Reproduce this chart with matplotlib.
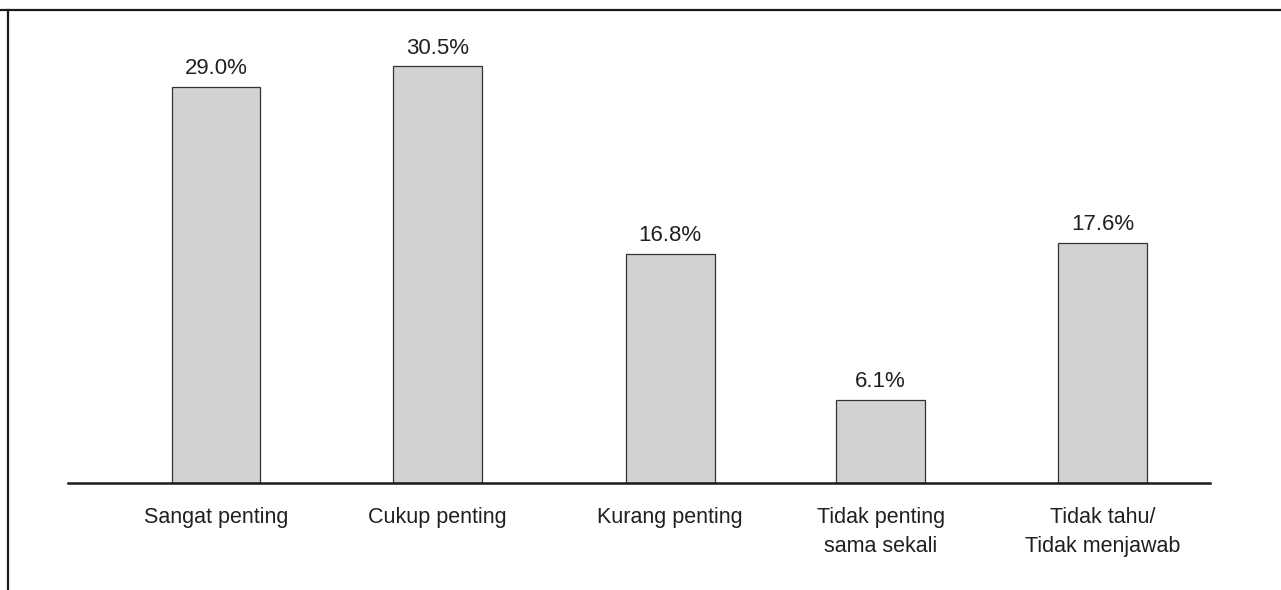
import matplotlib.pyplot as plt
from matplotlib.lines import Line2D

# survey answers, share of respondents in percent
categories = ["Sangat penting", "Cukup penting", "Kurang penting",
              "Tidak penting\nsama sekali", "Tidak tahu/\nTidak menjawab"]
values = [29.0, 30.5, 16.8, 6.1, 17.6]
value_labels = ["29.0%", "30.5%", "16.8%", "6.1%", "17.6%"]

# bar slots are not quite evenly spaced in the original
positions = [0, 1.0, 2.05, 3.0, 4.0]

BAR_COLOR = "#d1d2d4"
EDGE_COLOR = "#333333"
TEXT_COLOR = "#231f20"

plt.rcParams["font.family"] = ["Liberation Sans", "DejaVu Sans"]

W, H = 1281, 590
fig = plt.figure(figsize=(W / 100, H / 100), dpi=100)

# axes placed in pixel terms: baseline at y=483, spans x 68..1210
left, right = 68, 1210
base, top = 483, 10
ax = fig.add_axes([left / W, (H - base) / H, (right - left) / W, (base - top) / H])

ax.bar(positions, values, width=0.4, color=BAR_COLOR,
       edgecolor=EDGE_COLOR, linewidth=0.9, zorder=2)

for x, v, lab in zip(positions, values, value_labels):
    ax.annotate(lab, (x, v), xytext=(0, 5.5), textcoords="offset points",
                ha="center", va="bottom", fontsize=16, color=TEXT_COLOR)

ax.set_xlim(-0.668, 4.486)
ax.set_ylim(0, (base - top) / 13.66)

for s in ("top", "right", "left"):
    ax.spines[s].set_visible(False)
ax.spines["bottom"].set_linewidth(1.8)
ax.spines["bottom"].set_color("#1a1a1a")
ax.spines["bottom"].set_zorder(3)

ax.set_yticks([])
ax.set_xticks(positions)
ax.set_xticklabels(categories, fontsize=15.5, color=TEXT_COLOR, linespacing=1.5)
ax.tick_params(axis="x", length=0, pad=17.5)

# frame lines round the figure: top and left only, like the cropped source
fig.add_artist(Line2D([0, 1], [1 - 10 / H, 1 - 10 / H], transform=fig.transFigure,
                      color="#1a1a1a", linewidth=1.6))
fig.add_artist(Line2D([8 / W, 8 / W], [0, 1 - 10 / H], transform=fig.transFigure,
                      color="#1a1a1a", linewidth=1.6))

fig.savefig("out.png", dpi=100, facecolor="white")
